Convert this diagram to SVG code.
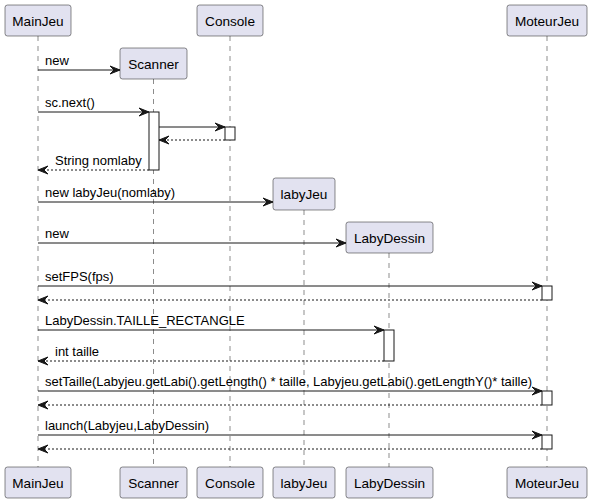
<svg xmlns="http://www.w3.org/2000/svg" width="592" height="503" viewBox="0 0 592 503">
<style>
.p{fill:#E2E2F0;stroke:#181818;stroke-width:0.5}
.pt{font-family:"Liberation Sans",Arial,sans-serif;font-size:13.6px;fill:#000;text-anchor:middle}
.ll{stroke:#181818;stroke-width:0.5;stroke-dasharray:5,5;fill:none}
.act{fill:#FFFFFF;stroke:#181818;stroke-width:1}
.m{stroke:#181818;stroke-width:1;fill:none;marker-end:url(#ah)}
.r{stroke:#181818;stroke-width:1;stroke-dasharray:2,2;fill:none;marker-end:url(#ah)}
.mt{font-family:"Liberation Sans",Arial,sans-serif;font-size:13px;fill:#000}
</style>
<defs>
<marker id="ah" markerUnits="userSpaceOnUse" markerWidth="10" markerHeight="8" refX="10" refY="4" orient="auto" overflow="visible">
<path d="M0,0 L10,4 L0,8 L4,4 Z" fill="#181818" stroke="#181818" stroke-width="1"/>
</marker>
</defs>
<rect width="592" height="503" fill="#FFFFFF"/>
<g id="lifelines">
<line class="ll" x1="38" y1="36" x2="38" y2="467"/>
<line class="ll" x1="153.5" y1="79" x2="153.5" y2="467"/>
<line class="ll" x1="230" y1="36" x2="230" y2="467"/>
<line class="ll" x1="304" y1="210" x2="304" y2="467"/>
<line class="ll" x1="389" y1="253" x2="389" y2="467"/>
<line class="ll" x1="547" y1="36" x2="547" y2="467"/>
</g>
<g id="activations">
<rect class="act" x="149" y="112" width="10" height="58"/>
<rect class="act" x="225" y="127" width="10" height="13"/>
<rect class="act" x="542" y="286" width="10" height="14"/>
<rect class="act" x="384" y="330" width="10" height="31"/>
<rect class="act" x="542" y="391" width="10" height="14"/>
<rect class="act" x="542" y="435" width="10" height="14"/>
</g>
<g id="connectors">
<line class="m" x1="38" y1="70" x2="120" y2="70"/>
<text class="mt" x="45" y="65">new</text>
<line class="m" x1="38" y1="112" x2="149" y2="112"/>
<text class="mt" x="45" y="107">sc.next()</text>
<line class="m" x1="159" y1="127" x2="225" y2="127"/>
<line class="r" x1="225" y1="140" x2="159" y2="140"/>
<line class="r" x1="149" y1="170" x2="38" y2="170"/>
<text class="mt" x="55" y="165">String nomlaby</text>
<line class="m" x1="38" y1="202" x2="273" y2="202"/>
<text class="mt" x="45" y="197">new labyJeu(nomlaby)</text>
<line class="m" x1="38" y1="243" x2="346" y2="243"/>
<text class="mt" x="45" y="238">new</text>
<line class="m" x1="38" y1="286" x2="542" y2="286"/>
<text class="mt" x="45" y="281">setFPS(fps)</text>
<line class="r" x1="542" y1="300" x2="38" y2="300"/>
<line class="m" x1="38" y1="330" x2="384" y2="330"/>
<text class="mt" x="45" y="325">LabyDessin.TAILLE_RECTANGLE</text>
<line class="r" x1="384" y1="361" x2="38" y2="361"/>
<text class="mt" x="55" y="356">int taille</text>
<line class="m" x1="38" y1="391" x2="542" y2="391"/>
<text class="mt" x="45" y="386">setTaille(Labyjeu.getLabi().getLength() * taille, Labyjeu.getLabi().getLengthY()* taille)</text>
<line class="r" x1="542" y1="405" x2="38" y2="405"/>
<line class="m" x1="38" y1="435" x2="542" y2="435"/>
<text class="mt" x="45" y="430">launch(Labyjeu,LabyDessin)</text>
<line class="r" x1="542" y1="449" x2="38" y2="449"/>
</g>
<g id="MainJeu">
<rect class="p" x="5" y="5" width="66" height="31" rx="2.5"/>
<text class="pt" x="38" y="25.5">MainJeu</text>
<rect class="p" x="5" y="467" width="66" height="31" rx="2.5"/>
<text class="pt" x="38" y="487.5">MainJeu</text>
</g>
<g id="Scanner">
<rect class="p" x="120" y="48" width="67" height="31" rx="2.5"/>
<text class="pt" x="153.5" y="68.5">Scanner</text>
<rect class="p" x="120" y="467" width="67" height="31" rx="2.5"/>
<text class="pt" x="153.5" y="487.5">Scanner</text>
</g>
<g id="Console">
<rect class="p" x="197" y="5" width="66" height="31" rx="2.5"/>
<text class="pt" x="230" y="25.5">Console</text>
<rect class="p" x="197" y="467" width="66" height="31" rx="2.5"/>
<text class="pt" x="230" y="487.5">Console</text>
</g>
<g id="labyJeu">
<rect class="p" x="273" y="178" width="62" height="32" rx="2.5"/>
<text class="pt" x="304" y="198.5">labyJeu</text>
<rect class="p" x="273" y="467" width="62" height="31" rx="2.5"/>
<text class="pt" x="304" y="487.5">labyJeu</text>
</g>
<g id="LabyDessin">
<rect class="p" x="346" y="222" width="87" height="31" rx="2.5"/>
<text class="pt" x="389.5" y="242.5">LabyDessin</text>
<rect class="p" x="346" y="467" width="87" height="31" rx="2.5"/>
<text class="pt" x="389.5" y="487.5">LabyDessin</text>
</g>
<g id="MoteurJeu">
<rect class="p" x="507" y="5" width="80" height="31" rx="2.5"/>
<text class="pt" x="547" y="25.5">MoteurJeu</text>
<rect class="p" x="507" y="467" width="80" height="31" rx="2.5"/>
<text class="pt" x="547" y="487.5">MoteurJeu</text>
</g>
</svg>
